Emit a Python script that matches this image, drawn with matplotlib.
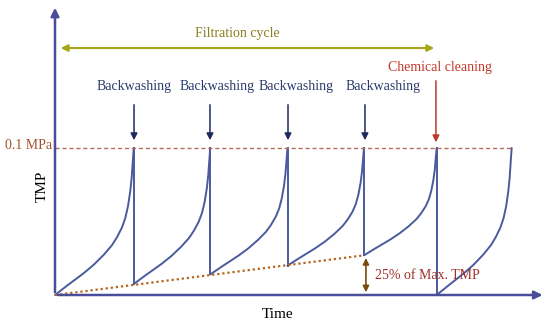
import numpy as np
import matplotlib
matplotlib.use("Agg")
import matplotlib.pyplot as plt

plt.rcParams['font.family'] = ['Liberation Serif', 'DejaVu Serif']

# cycle data (time in arbitrary units, TMP in MPa)
start_t = [0.0, 1.03, 2.03, 3.04, 4.04, 4.99]
peak_t = [1.03, 2.03, 3.04, 4.04, 4.99, 5.97]
start_tmp = [0.0, 0.0075, 0.014, 0.020, 0.027, 0.0]
max_tmp = 0.1

# shape of one fouling curve (fraction of cycle, fraction of rise)
shape_t = [0, 0.149, 0.361, 0.488, 0.616, 0.722, 0.786, 0.849, 0.892, 0.926, 0.955, 0.973, 0.985, 0.994, 1.0]
shape_y = [0, 0.062, 0.147, 0.204, 0.272, 0.338, 0.392, 0.458, 0.523, 0.603, 0.705, 0.797, 0.89, 0.96, 1.0]

bw_arrow_t = [1.033, 2.026, 3.046, 4.052]
bw_label_t = [1.033, 2.118, 3.150, 4.288]

curve_col = '#4b5a9c'
axis_col = '#4a4d99'

fig = plt.figure(figsize=(5.5, 3.24), dpi=100)
ax = fig.add_axes([0, 0, 1, 1])
ax.set_xlim(-0.719, 6.471)
ax.set_ylim(-0.01973, 0.20068)
ax.axis('off')

st = np.array(shape_t)
sy = np.array(shape_y)
for i in range(len(start_t)):
    xs = start_t[i] + st * (peak_t[i] - start_t[i])
    ys = start_tmp[i] + sy * (max_tmp - start_tmp[i])
    ax.plot(xs, ys, color=curve_col, lw=1.4, solid_capstyle='round', solid_joinstyle='round')
    if i < len(start_t) - 1:
        ax.plot([peak_t[i], peak_t[i]], [max_tmp, start_tmp[i + 1]], color=curve_col, lw=1.4)

# axes with arrows
ax.annotate('', xy=(0, 0.1973), xytext=(0, 0),
            arrowprops=dict(arrowstyle='-|>', color=axis_col, lw=1.8, mutation_scale=12))
ax.annotate('', xy=(6.41, 0), xytext=(0, 0),
            arrowprops=dict(arrowstyle='-|>', color=axis_col, lw=1.8, mutation_scale=12))

# max TMP line and irreversible fouling trend
ax.plot([0, peak_t[-1]], [max_tmp, max_tmp], color='#b5705a', lw=1.0, ls=(0, (3, 2)))
ax.plot([0, start_t[4]], [0, start_tmp[4]], color='#b5651d', lw=1.6, ls=(0, (1, 1.3)))

# filtration cycle
ax.annotate('', xy=(0.039, 0.168), xytext=(4.993, 0.168),
            arrowprops=dict(arrowstyle='<|-|>', color='#a6a619', lw=1.5, mutation_scale=10))
ax.text(2.38, 0.178, 'Filtration cycle', color='#8a7f1c', fontsize=10, ha='center', va='center')

# backwashing
for xa, xl in zip(bw_arrow_t, bw_label_t):
    ax.annotate('', xy=(xa, 0.1034), xytext=(xa, 0.1313),
                arrowprops=dict(arrowstyle='-|>', color='#1f2a5c', lw=1.1, mutation_scale=10))
    ax.text(xl, 0.1415, 'Backwashing', color='#2b3a6b', fontsize=10, ha='center', va='center')

# chemical cleaning
ax.annotate('', xy=(4.98, 0.102), xytext=(4.98, 0.1476),
            arrowprops=dict(arrowstyle='-|>', color='#b8392b', lw=1.1, mutation_scale=10))
ax.text(5.03, 0.155, 'Chemical cleaning', color='#c0392b', fontsize=10, ha='center', va='center')

# 25 % of max TMP
ax.annotate('', xy=(4.065, 0.0), xytext=(4.065, start_tmp[4]),
            arrowprops=dict(arrowstyle='<|-|>', color='#7a4a0a', lw=1.2, mutation_scale=9))
ax.text(4.18, 0.0136, '25% of Max. TMP', color='#a0302a', fontsize=10, ha='left', va='center')

ax.text(-0.039, 0.1015, '0.1 MPa', color='#a0522d', fontsize=10, ha='right', va='center')
ax.text(-0.17, 0.074, 'TMP', fontsize=11, rotation=90, ha='center', va='center')
ax.text(2.915, -0.0135, 'Time', fontsize=11, ha='center', va='center')

fig.savefig('out.png', dpi=100)
